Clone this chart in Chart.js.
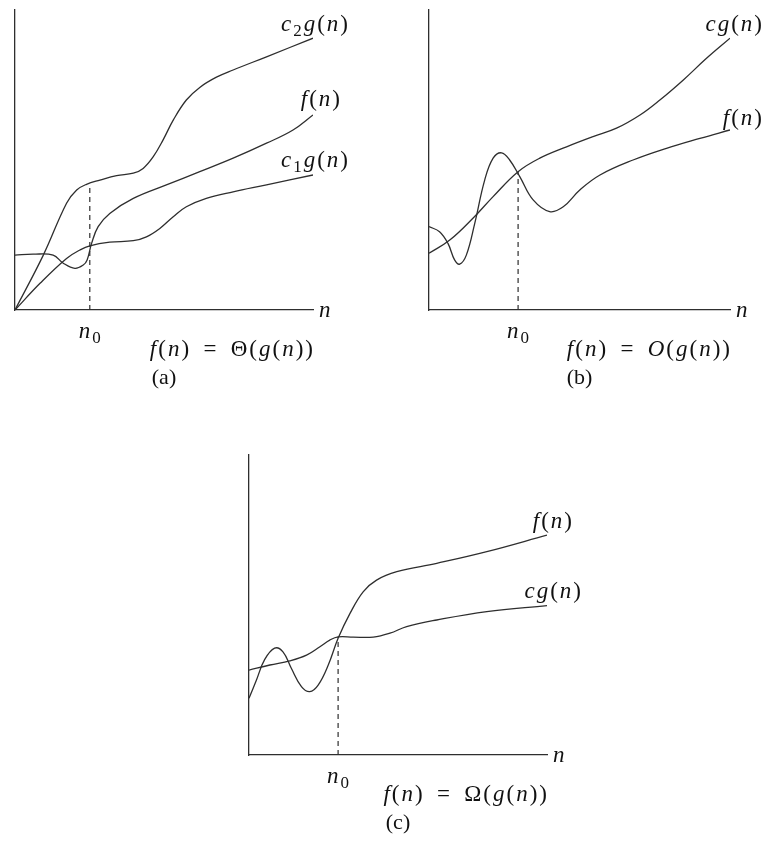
<!DOCTYPE html>
<html>
<head>
<meta charset="utf-8">
<script src="https://cdn.jsdelivr.net/npm/chart.js@4.4.1/dist/chart.umd.min.js"></script>
<style>
  body { margin: 0; background: #fff; width: 767px; height: 850px; position: relative; overflow: hidden; }
  .panel { position: absolute; }
</style>
</head>
<body>
<div class="panel" style="left:0;top:0;width:380px;height:400px"><canvas id="chart-a"></canvas></div>
<div class="panel" style="left:400px;top:0;width:367px;height:400px"><canvas id="chart-b"></canvas></div>
<div class="panel" style="left:220px;top:440px;width:380px;height:410px"><canvas id="chart-c"></canvas></div>
<script>
/********************** data (x: 0..100 along n, y: 0..100 up) **********************/

// (a) f(n) = Θ(g(n))
var A_C2G_X = [0, 9.5, 17.3, 20.7, 24, 28.5, 34.1, 39.7, 43, 46.4, 49.7, 53.1, 57.5, 62, 67.6, 73.2, 84.4, 100];
var A_C2G_Y = [0, 18.3, 35.6, 40, 41.9, 43.3, 44.8, 45.6, 47.2, 51.1, 56.7, 63.3, 70, 74.2, 77.6, 80, 84.4, 90.6];
var A_F_X = [0, 6.1, 12.8, 16.2, 20.1, 22.9, 24.2, 25.7, 27.9, 31.8, 39.7, 50.8, 62, 73.2, 84.4, 93.3, 100];
var A_F_Y = [18.3, 18.6, 18.3, 15.6, 13.9, 15, 16.7, 22.2, 27.8, 32.2, 37.2, 41.7, 46.1, 50.6, 55.6, 60, 65];
var A_C1G_X = [0, 8.4, 17.3, 21.8, 25.1, 31.8, 39.7, 44.1, 48.6, 53.1, 57.5, 64.2, 73.2, 84.4, 100];
var A_C1G_Y = [0, 8.9, 17.2, 20, 21.4, 22.6, 23.1, 24.4, 27.2, 31.1, 34.4, 37.2, 39.4, 41.7, 45];
var A_N0 = 25.1, A_N0_TOP = 42;

// (b) f(n) = O(g(n))
var B_CG_X = [0, 6.9, 14.6, 21.3, 29.6, 36.8, 45.7, 54.5, 62.3, 70.1, 76.7, 84.5, 92.2, 100];
var B_CG_Y = [18.9, 23.3, 30.6, 37.8, 46.1, 50.6, 54.4, 57.8, 60.6, 65, 70, 76.7, 83.9, 90.6];
var B_F_X = [0, 3.5, 6.3, 8.5, 10.2, 12.4, 15.2, 18.5, 21.3, 24.1, 26.8, 30.2, 34.6, 40.1, 44.6, 50.1, 56.8, 67.8, 78.9, 90, 100];
var B_F_Y = [27.8, 26.1, 22.2, 16.7, 15.3, 18.3, 28.9, 43.3, 50.6, 52.4, 50, 44.4, 36.7, 32.8, 34.4, 40, 45, 50, 53.9, 57.2, 60];
var B_N0 = 29.6, B_N0_TOP = 46.1;

// (c) f(n) = Ω(g(n))
var C_F_X = [0, 2.5, 5.2, 8.6, 11.4, 14.2, 17.6, 20.4, 23.2, 26.6, 29.9, 33.9, 38.3, 42.8, 49.6, 63, 79.8, 100];
var C_F_Y = [18.9, 25, 31.7, 35.6, 34.4, 28.9, 22.8, 21.1, 23.3, 30, 38.9, 47.2, 54.4, 58.3, 61.1, 63.9, 67.8, 73.3];
var C_CG_X = [0, 7, 13.7, 19.3, 23.8, 27.1, 29.9, 35, 41.7, 47.3, 52.9, 63, 79.8, 100];
var C_CG_Y = [28.3, 30, 31.4, 33.3, 36.1, 38.3, 39.4, 39.3, 39.3, 40.6, 42.8, 45, 47.8, 49.8];
var C_N0 = 29.9, C_N0_TOP = 39.4;

var INK = "#2e2e2e";
var FONT = '"Liberation Serif", "DejaVu Serif", serif';
var FONT_SIZE = 23;
var TRACKING = 2;

/********************** text helpers **********************/

// letters are italic, everything else upright, "_x" makes x a subscript
function parseMath(s) {
    var runs = [];
    for (var i = 0; i < s.length; i++) {
        var ch = s[i];
        if (ch === "_") {
            runs.push({ t: s[i + 1], it: false, sub: true });
            i++;
        } else {
            runs.push({ t: ch, it: /[A-Za-z]/.test(ch), sub: false });
        }
    }
    return runs;
}

function runFont(r, size) {
    return (r.it ? "italic " : "") + (r.sub ? Math.round(size * 0.72) : size) + "px " + FONT;
}

function drawMath(ctx, s, x, y, align, size) {
    var runs = parseMath(s);
    var w = 0;
    runs.forEach(function (r) {
        ctx.font = runFont(r, size);
        r.w = (r.t === " " ? size * 0.45 : ctx.measureText(r.t).width) + TRACKING;
        w += r.w;
    });
    w -= TRACKING;
    var sx = align === "right" ? x - w : (align === "center" ? x - w / 2 : x);
    runs.forEach(function (r) {
        ctx.font = runFont(r, size);
        ctx.fillText(r.t, sx, y + (r.sub ? size * 0.28 : 0));
        sx += r.w;
    });
}

function toPoints(xs, ys) {
    return xs.map(function (x, i) { return { x: x, y: ys[i] }; });
}

/********************** charts **********************/

function makeTextPlugin(cfg) {
    return {
        id: "mathText",
        afterDraw: function (chart) {
            var ctx = chart.ctx;
            var area = chart.chartArea;
            var xs = chart.scales.x, ys = chart.scales.y;
            ctx.save();
            ctx.fillStyle = "#111";
            ctx.textBaseline = "middle";

            // curve names near the right end of each curve
            cfg.labels.forEach(function (lb) {
                var s = cfg.series[lb.series];
                var last = s[0].length - 1;
                var px = xs.getPixelForValue(s[0][last]);
                var py = ys.getPixelForValue(s[1][last]);
                drawMath(ctx, lb.text, px + lb.dx, py + lb.dy, "right", FONT_SIZE);
            });

            drawMath(ctx, "n", area.right + 6, area.bottom + 1, "left", FONT_SIZE);
            drawMath(ctx, "n_0", xs.getPixelForValue(cfg.n0), area.bottom + 22, "center", FONT_SIZE);
            drawMath(ctx, cfg.formula, area.right, area.bottom + 40, "right", FONT_SIZE);

            ctx.font = (FONT_SIZE - 1) + "px " + FONT;
            ctx.textAlign = "center";
            ctx.fillText(cfg.caption, (area.left + area.right) / 2, area.bottom + 68);
            ctx.restore();
        }
    };
}

function makeChart(cfg) {
    var datasets = cfg.series.map(function (s) {
        return {
            data: toPoints(s[0], s[1]),
            borderColor: INK,
            borderWidth: 1.3,
            pointRadius: 0,
            fill: false,
            tension: 0.4
        };
    });
    datasets.push({
        data: [{ x: cfg.n0, y: 0 }, { x: cfg.n0, y: cfg.n0Top }],
        borderColor: INK,
        borderWidth: 1.2,
        borderDash: [5, 4],
        pointRadius: 0
    });

    return new Chart(document.getElementById(cfg.id), {
        type: "line",
        data: { datasets: datasets },
        plugins: [makeTextPlugin(cfg)],
        options: {
            responsive: true,
            maintainAspectRatio: false,
            animation: false,
            layout: { padding: cfg.padding },
            plugins: {
                legend: { display: false },
                tooltip: { enabled: false }
            },
            scales: {
                x: {
                    type: "linear", min: 0, max: 100,
                    grid: { display: false, drawTicks: false },
                    ticks: { display: false },
                    border: { display: true, color: INK, width: 1.3 }
                },
                y: {
                    type: "linear", min: 0, max: 100,
                    grid: { display: false, drawTicks: false },
                    ticks: { display: false },
                    border: { display: true, color: INK, width: 1.3 }
                }
            }
        }
    });
}

makeChart({
    id: "chart-a",
    padding: { left: 15, top: 10, right: 67, bottom: 90 },
    series: [[A_C2G_X, A_C2G_Y], [A_F_X, A_F_Y], [A_C1G_X, A_C1G_Y]],
    labels: [
        { text: "c_2g(n)", series: 0, dx: 35, dy: -13 },
        { text: "f(n)", series: 1, dx: 27, dy: -15 },
        { text: "c_1g(n)", series: 2, dx: 35, dy: -14 }
    ],
    n0: A_N0, n0Top: A_N0_TOP,
    formula: "f(n) = Θ(g(n))",
    caption: "(a)"
});

makeChart({
    id: "chart-b",
    padding: { left: 29, top: 10, right: 37, bottom: 90 },
    series: [[B_CG_X, B_CG_Y], [B_F_X, B_F_Y]],
    labels: [
        { text: "cg(n)", series: 0, dx: 32, dy: -13 },
        { text: "f(n)", series: 1, dx: 32, dy: -11 }
    ],
    n0: B_N0, n0Top: B_N0_TOP,
    formula: "f(n) = O(g(n))",
    caption: "(b)"
});

makeChart({
    id: "chart-c",
    padding: { left: 29, top: 15, right: 53, bottom: 95 },
    series: [[C_F_X, C_F_Y], [C_CG_X, C_CG_Y]],
    labels: [
        { text: "f(n)", series: 0, dx: 25, dy: -13 },
        { text: "cg(n)", series: 1, dx: 34, dy: -14 }
    ],
    n0: C_N0, n0Top: C_N0_TOP,
    formula: "f(n) = Ω(g(n))",
    caption: "(c)"
});
</script>
</body>
</html>
